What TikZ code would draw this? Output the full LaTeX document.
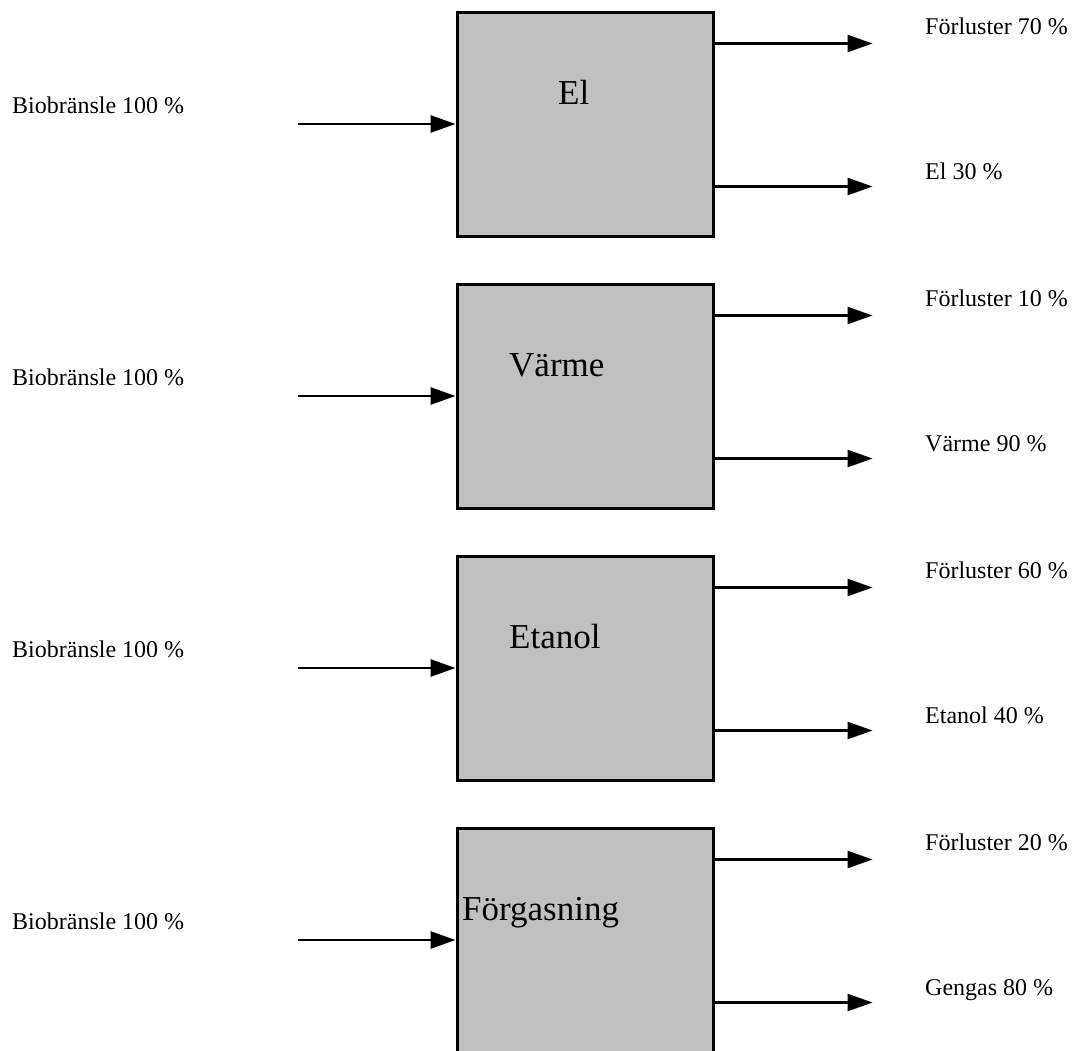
\documentclass[tikz,border=0pt]{standalone}
\usepackage{fontspec}
\setmainfont{Liberation Serif}
\usepackage{tikz}
\usetikzlibrary{positioning,arrows.meta}

\tikzset{
	process/.style={shape=rectangle,draw,line width=3pt,fill={rgb,255:red,192;green,192;blue,192},minimum width=256pt,minimum height=224pt,inner sep=0pt},
	proctext/.style={anchor=base west,inner sep=0pt,font=\fontsize{35}{40}\selectfont},
	flowtext/.style={anchor=base west,inner sep=0pt,font=\fontsize{24}{28}\selectfont},
	flow/.style={line width=2.8pt,-{Triangle[length=25pt,width=17pt]}}
}

\begin{document}
\begin{tikzpicture}[x=1pt,y=1pt]
		\useasboundingbox (0,0) rectangle (1076,-1050);
		\clip (0,0) rectangle (1076,-1050);
		% El
		\node(el) [process] at (585,-124) {};
		\node(el-txt) [proctext] at (558,-104) {El};
		\node(el-in) [flowtext] at (12,-113) {Biobränsle 100 \%};
		\coordinate[left=158pt of el.west] (el-src);
		\coordinate[below=33pt of el.north east] (el-a);
		\coordinate[below=176pt of el.north east] (el-b);
		\coordinate[right=158pt of el-a] (el-a-end);
		\coordinate[right=158pt of el-b] (el-b-end);
		\node(el-loss) [flowtext] at (925,-34) {Förluster 70 \%};
		\node(el-out) [flowtext] at (925,-179) {El 30 \%};
		\draw[flow] (el-src) -- (el.west);
		\draw[flow] (el-a) -- (el-a-end);
		\draw[flow] (el-b) -- (el-b-end);
		% Värme
		\node(varme) [process] at (585,-396) {};
		\node(varme-txt) [proctext] at (509,-376) {Värme};
		\node(varme-in) [flowtext] at (12,-385) {Biobränsle 100 \%};
		\coordinate[left=158pt of varme.west] (varme-src);
		\coordinate[below=33pt of varme.north east] (varme-a);
		\coordinate[below=176pt of varme.north east] (varme-b);
		\coordinate[right=158pt of varme-a] (varme-a-end);
		\coordinate[right=158pt of varme-b] (varme-b-end);
		\node(varme-loss) [flowtext] at (925,-306) {Förluster 10 \%};
		\node(varme-out) [flowtext] at (925,-451) {Värme 90 \%};
		\draw[flow] (varme-src) -- (varme.west);
		\draw[flow] (varme-a) -- (varme-a-end);
		\draw[flow] (varme-b) -- (varme-b-end);
		% Etanol
		\node(etanol) [process] at (585,-668) {};
		\node(etanol-txt) [proctext] at (509,-648) {Etanol};
		\node(etanol-in) [flowtext] at (12,-657) {Biobränsle 100 \%};
		\coordinate[left=158pt of etanol.west] (etanol-src);
		\coordinate[below=33pt of etanol.north east] (etanol-a);
		\coordinate[below=176pt of etanol.north east] (etanol-b);
		\coordinate[right=158pt of etanol-a] (etanol-a-end);
		\coordinate[right=158pt of etanol-b] (etanol-b-end);
		\node(etanol-loss) [flowtext] at (925,-578) {Förluster 60 \%};
		\node(etanol-out) [flowtext] at (925,-723) {Etanol 40 \%};
		\draw[flow] (etanol-src) -- (etanol.west);
		\draw[flow] (etanol-a) -- (etanol-a-end);
		\draw[flow] (etanol-b) -- (etanol-b-end);
		% Förgasning
		\node(forg) [process] at (585,-940) {};
		\node(forg-txt) [proctext] at (462,-920) {Förgasning};
		\node(forg-in) [flowtext] at (12,-929) {Biobränsle 100 \%};
		\coordinate[left=158pt of forg.west] (forg-src);
		\coordinate[below=33pt of forg.north east] (forg-a);
		\coordinate[below=176pt of forg.north east] (forg-b);
		\coordinate[right=158pt of forg-a] (forg-a-end);
		\coordinate[right=158pt of forg-b] (forg-b-end);
		\node(forg-loss) [flowtext] at (925,-850) {Förluster 20 \%};
		\node(forg-out) [flowtext] at (925,-995) {Gengas 80 \%};
		\draw[flow] (forg-src) -- (forg.west);
		\draw[flow] (forg-a) -- (forg-a-end);
		\draw[flow] (forg-b) -- (forg-b-end);
	\end{tikzpicture}
\end{document}
